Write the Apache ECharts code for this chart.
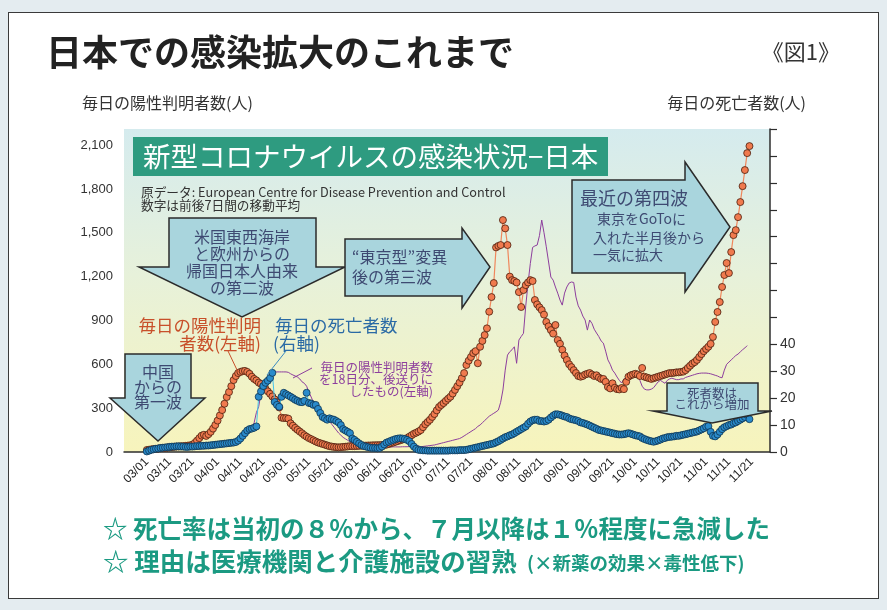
<!DOCTYPE html>
<html>
<head>
<meta charset="utf-8">
<script src="https://cdn.jsdelivr.net/npm/echarts@6/dist/echarts.min.js"></script>
<style>
html,body{margin:0;padding:0;background:#e4ecf0;}
#card{position:absolute;left:8px;top:12px;width:869px;height:585px;background:#fff;border:1px solid #3a3a3a;}
#chart{position:absolute;left:0;top:0;width:887px;height:610px;}
</style>
</head>
<body>
<div id="card"></div>
<div id="chart"></div>
<script>
// ---- data ----
// daily positives, 7-day centred moving average (left axis), from 03/01
const positivesStart = '03/01';
const positives = [
 14,16,18,20,22,24,26,27,28,30,
 32,34,36,37,38,40,40,42,44,46,
 50,62,78,95,112,118,110,122,138,160,
 185,215,250,287,330,376,410,450,492,520,
 540,548,553,555,548,535,515,500,490,475,
 465,450,432,415,398,380,360,340,305,235,
 232,232,228,196,180,165,152,140,128,115,
 105,95,88,80,72,65,60,55,50,45,
 40,37,35,33,32,33,35,36,38,40,
 40,40,41,42,43,44,44,45,45,46,
 46,47,47,48,48,50,55,60,65,70,
 75,80,85,90,95,105,115,125,132,140,
 150,170,190,205,220,240,260,285,308,322,
 335,350,365,378,400,425,450,475,505,540,
 595,625,650,677,690,607,720,760,800,846,
 960,1060,1156,1400,1410,1416,1587,1530,1416,1200,
 1176,1170,1160,1094,992,1108,1142,1160,1176,1170,
 1040,1010,990,971,940,890,860,834,810,869,
 766,740,700,660,630,600,581,560,540,520,
 515,520,530,535,540,530,520,525,510,500,
 500,480,445,435,470,440,430,428,438,430,
 480,515,525,530,535,530,520,575,515,510,
 505,500,505,510,515,520,525,530,535,540,
 540,542,545,545,548,550,560,575,590,605,
 615,630,650,670,690,705,720,740,787,890,
 958,1026,1129,1211,1293,1224,1368,1484,1518,1607,
 1710,1819,1929,2045,2093
];
// daily deaths (right axis), from 03/01
const deathsStart = '03/01';
const deaths = [
 0.2,0.5,0.8,1,1.2,1.3,1.5,1.6,1.7,1.8,
 1.9,2,2,2.1,2.1,2,2,1.9,1.9,2,
 2,2.1,2.2,2.2,2.3,2.3,2.4,2.4,2.5,2.6,
 2.7,2.8,2.9,3,3.1,3.2,3.3,3.4,3.5,3.7,
 4.2,5,6,7,8,8.5,8.7,9,9.5,20.5,
 22.5,24.5,25.7,26.5,27.5,29.4,18.6,17.5,16.8,20.5,
 22,21.5,21,20.5,20,19.4,19,18.6,18.5,19,
 22,18.2,18,17.5,17.5,16,14.5,13,12.5,12,
 12.5,12.2,12,11.5,11,10,8.5,8,7.5,7,
 5,4.5,3.8,3.2,2.6,2.2,2,1.8,1.6,1.5,
 1.5,1.4,1.5,2,2.8,3.5,3.8,4.2,4.5,4.8,
 5,5.1,5,4.8,4.5,4,3,2,1.2,0.8,
 0.7,0.6,0.6,0.5,0.5,0.5,0.5,0.5,0.5,0.5,
 0.5,0.5,0.5,0.6,0.6,0.6,0.6,0.7,0.7,0.7,
 0.8,1,1.2,1.4,1.6,1.8,2,2.2,2.4,2.6,
 2.8,3,3.2,3.6,4,4.5,5,5.5,5.8,6.2,
 6.5,7,7.5,8,8.5,9,9.5,10.5,11.3,11.8,
 12,12,11.5,11.5,11.3,11.5,12,12.8,13.5,14,
 14,13.8,13.5,13.2,13,12.5,12.2,12,11.8,11.5,
 11,10.8,10.5,10.2,9.8,9.4,9,8.6,8.2,8,
 7.8,7.6,7.4,7.2,7,6.8,6.6,6.5,6.5,6.6,
 6.8,7,6.8,6.5,6.2,6,5.8,5.2,4.8,4.5,
 4.2,4,3.8,4,4.3,4.6,5,5.2,5.5,5.6,
 5.7,5.8,6,6,6.2,6.4,6.6,6.8,7,7.2,
 7.4,7.6,8,8.4,8.8,9.4,9.6,7.5,6,5.8,
 6.5,7.5,8.5,9.2,9.6,10,10.2,10.7,11,11.5,
 12,12.5,13,13.8,12.2
];
// positives delayed by 18 days (left axis), from 03/16
const shiftedStart = '03/16';
const shifted = [
 25,26,27,28,29,
 30,31,32,33,34,35,36,37,38,40,
 42,44,46,48,50,55,60,70,80,90,
 95,100,100,105,120,150,170,200,270,310,
 400,440,470,510,540,545,548,548,548,548,
 548,548,545,535,527,520,513,500,480,470,
 450,410,376,340,308,290,270,255,240,225,
 210,190,170,150,130,115,100,90,80,70,
 62,58,55,50,48,46,44,42,40,38,
 35,35,34,34,33,33,34,34,35,35,
 35,35,36,36,36,37,38,38,40,42,
 36,38,40,42,44,46,48,52,56,60,
 64,68,72,76,80,84,88,92,100,110,
 120,130,140,150,160,175,185,200,215,230,
 245,255,265,275,287,340,424,560,663,686,
 700,720,607,766,790,812,1000,1154,1290,1400,
 1410,1416,1480,1587,1500,1404,1300,1197,1176,1129,
 1087,1040,1005,1087,1129,1156,1163,1160,1060,1000,
 971,930,903,834,903,880,840,814,790,760,
 745,690,630,600,560,540,513,490,472,500,
 506,520,530,540,530,520,490,450,430,425,
 425,430,440,460,480,490,480,470,490,500,
 505,500,495,495,500,500,510,515,520,525,
 530,535,538,540,540,540,538,535,530,525,
 520,512,508,560,600,615,630,645,660,670,
 685,700,712,728
];
// x-axis: one category per day, 02/20 .. 11/29 (2020)
const firstDay = [2, 20], lastDay = [11, 29];
const monthDays = {2:29,3:31,4:30,5:31,6:30,7:31,8:31,9:30,10:31,11:30};
const dates = [];
for (let m = firstDay[0]; m <= lastDay[0]; m++) {
  const d0 = m === firstDay[0] ? firstDay[1] : 1;
  const d1 = m === lastDay[0] ? lastDay[1] : monthDays[m];
  for (let d = d0; d <= d1; d++) dates.push(String(m).padStart(2,'0') + '/' + String(d).padStart(2,'0'));
}
const tickDays = ['01','11','21'];
const labelFrom = '03/01', labelTo = '11/21';
// axes
const leftMax = 2210, leftStep = 300, leftTop = 2100;
const rightMax = 120, rightStep = 10, rightTop = 40;

function place(arr, start) {
  const out = dates.map(() => null);
  const k0 = dates.indexOf(start);
  arr.forEach((v, k) => { out[k0 + k] = v; });
  return out;
}

const JP = '"Noto Sans CJK JP", "Noto Sans", sans-serif';
const ink = '#3e4a72';
const arrowFill = '#a9d5dd';
const arrowStroke = '#2b2b2b';

function txt(text, x, y, size, color, align, weight) {
  return { type: 'text', x: x, y: y, z: 20,
    style: { text: text, fill: color, font: (weight || 'normal') + ' ' + size + 'px ' + JP,
      textAlign: align || 'left', textVerticalAlign: 'middle', verticalAlign: 'middle' } };
}
function poly(pts) {
  return { type: 'polygon', z: 15, shape: { points: pts },
    style: { fill: arrowFill, stroke: arrowStroke, lineWidth: 1.5 } };
}
function seg(x1, y1, x2, y2, color) {
  return { type: 'line', z: 15, shape: { x1: x1, y1: y1, x2: x2, y2: y2 }, style: { stroke: color, lineWidth: 1 } };
}

const chart = echarts.init(document.getElementById('chart'), null, { renderer: 'canvas' });
const iFrom = dates.indexOf(labelFrom), iTo = dates.indexOf(labelTo);

chart.setOption({
  backgroundColor: 'transparent',
  animation: false,
  grid: {
    left: 124, right: 117, top: 129, bottom: 158, show: true, borderWidth: 0,
    backgroundColor: new echarts.graphic.LinearGradient(0, 0, 0, 1, [
      { offset: 0, color: '#d5ebee' }, { offset: 0.45, color: '#e7f1da' }, { offset: 1, color: '#f7f4bc' }
    ])
  },
  xAxis: {
    type: 'category', data: dates, boundaryGap: false,
    axisLine: { lineStyle: { color: '#2e2e2e', width: 1.5 } },
    axisTick: { show: false },
    axisLabel: {
      interval: (i, v) => i >= iFrom && i <= iTo && tickDays.includes(v.slice(3)),
      rotate: 45, fontSize: 12, color: '#222', margin: 8, fontFamily: 'Liberation Sans, Arial'
    },
    splitLine: { show: false }
  },
  yAxis: [
    { type: 'value', min: 0, max: leftMax, interval: leftStep, position: 'left',
      axisLine: { show: false }, axisTick: { show: false }, splitLine: { show: false },
      axisLabel: { fontSize: 13, color: '#333', margin: 11, fontFamily: 'Liberation Sans, Arial',
        formatter: v => (v % leftStep === 0 && v <= leftTop) ? v.toLocaleString('en-US') : '' } },
    { type: 'value', min: 0, max: rightMax, interval: rightStep, position: 'right',
      axisLine: { show: true, lineStyle: { color: '#2e2e2e', width: 1.5 } },
      axisTick: { show: true, length: 7, lineStyle: { color: '#2e2e2e', width: 1.2 } },
      splitLine: { show: false },
      axisLabel: { fontSize: 14, color: '#333', margin: 10, fontFamily: 'Liberation Sans, Arial',
        formatter: v => (v <= rightTop && v % rightStep === 0) ? String(v) : '' } }
  ],
  series: [
    { name: 'shifted', type: 'line', yAxisIndex: 0, data: place(shifted, shiftedStart), z: 2,
      showSymbol: false, lineStyle: { color: '#8d3e9d', width: 1 }, silent: true },
    { name: 'positives', type: 'line', yAxisIndex: 0, data: place(positives, positivesStart), z: 3,
      symbol: 'circle', symbolSize: 7, showAllSymbol: true,
      itemStyle: { color: '#f07a4e', borderColor: '#4a1e0e', borderWidth: 0.8 },
      lineStyle: { color: '#f0875c', width: 1.2 }, silent: true },
    { name: 'deaths', type: 'line', yAxisIndex: 1, data: place(deaths, deathsStart), z: 4,
      symbol: 'circle', symbolSize: 7, showAllSymbol: true,
      itemStyle: { color: '#2a8bcb', borderColor: '#0e3350', borderWidth: 0.8 },
      lineStyle: { color: '#45c3ec', width: 1 }, silent: true }
  ],
  graphic: [
    txt('日本での感染拡大のこれまで', 46, 52, 36, '#222', 'left', 'bold'),
    txt('《図1》', 840, 52, 22, '#333', 'right'),
    txt('毎日の陽性判明者数(人)', 82, 103, 16, '#333', 'left'),
    txt('毎日の死亡者数(人)', 806, 103, 16, '#333', 'right'),
    { type: 'rect', z: 14, shape: { x: 133, y: 137, width: 475, height: 39 }, style: { fill: '#2e9b80' } },
    txt('新型コロナウイルスの感染状況−日本', 143, 157, 27.5, '#ffffff', 'left'),
    txt('原データ: European Centre for Disease Prevention and Control', 141, 192, 12.7, '#333', 'left'),
    txt('数字は前後7日間の移動平均', 141, 205, 12.7, '#333', 'left'),
    // second wave arrow
    poly([[169,218],[316,218],[316,267],[345,267],[242,317],[139,267],[169,267]]),
    txt('米国東西海岸', 242, 237, 16, ink, 'center'),
    txt('と欧州からの', 242, 254, 16, ink, 'center'),
    txt('帰国日本人由来', 242, 271, 16, ink, 'center'),
    txt('の第二波', 242, 288, 16, ink, 'center'),
    // third wave arrow
    poly([[345,239],[462,239],[462,228],[490,267],[462,308],[462,296],[345,296]]),
    txt('“東京型”変異', 352, 257, 16, ink, 'left'),
    txt('後の第三波', 352, 277, 16, ink, 'left'),
    // fourth wave arrow
    poly([[572,180],[685,180],[685,162],[730,227],[685,292],[685,273],[572,273]]),
    txt('最近の第四波', 580, 198, 18, ink, 'left'),
    txt('東京をGoToに', 597, 219, 14, ink, 'left'),
    txt('入れた半月後から', 593, 238, 14, ink, 'left'),
    txt('一気に拡大', 593, 255, 14, ink, 'left'),
    // first wave arrow
    poly([[125,354],[191,354],[191,398],[205,398],[158,441],[110,398],[125,398]]),
    txt('中国', 158, 372, 16, ink, 'center'),
    txt('からの', 158, 387, 16, ink, 'center'),
    txt('第一波', 158, 402, 16, ink, 'center'),
    // deaths arrow
    poly([[667,383],[758,383],[758,411],[772,411],[712,423],[653,411],[667,411]]),
    txt('死者数は', 712, 393, 12.5, ink, 'center'),
    txt('これから増加', 712, 404, 12.5, ink, 'center'),
    // series labels
    txt('毎日の陽性判明', 261, 325, 17.5, '#c8502a', 'right'),
    txt('者数(左軸)', 261, 343, 17.5, '#c8502a', 'right'),
    txt('毎日の死亡者数', 275, 325, 17.5, '#2a6aa5', 'left'),
    txt('(右軸)', 273, 343, 17.5, '#2a6aa5', 'left'),
    txt('毎日の陽性判明者数', 433, 367, 12.5, '#8d3e9d', 'right'),
    txt('を18日分、後送りに', 433, 379, 12.5, '#8d3e9d', 'right'),
    txt('したもの(左軸)', 433, 391, 12.5, '#8d3e9d', 'right'),
    seg(228, 351, 238, 372, '#c8502a'),
    seg(286, 351, 267, 375, '#3a8ac0'),
    seg(312, 368, 293, 378, '#8d3e9d'),
    // bottom notes
    txt('☆ 死亡率は当初の８％から、７月以降は１％程度に急減した', 103, 529, 24.5, '#1b9a82', 'left', 'bold'),
    txt('☆ 理由は医療機関と介護施設の習熟', 103, 561, 25.5, '#1b9a82', 'left', 'bold'),
    txt('(×新薬の効果×毒性低下)', 527, 563, 18.5, '#1b9a82', 'left', 'bold')
  ]
});
</script>
</body>
</html>
